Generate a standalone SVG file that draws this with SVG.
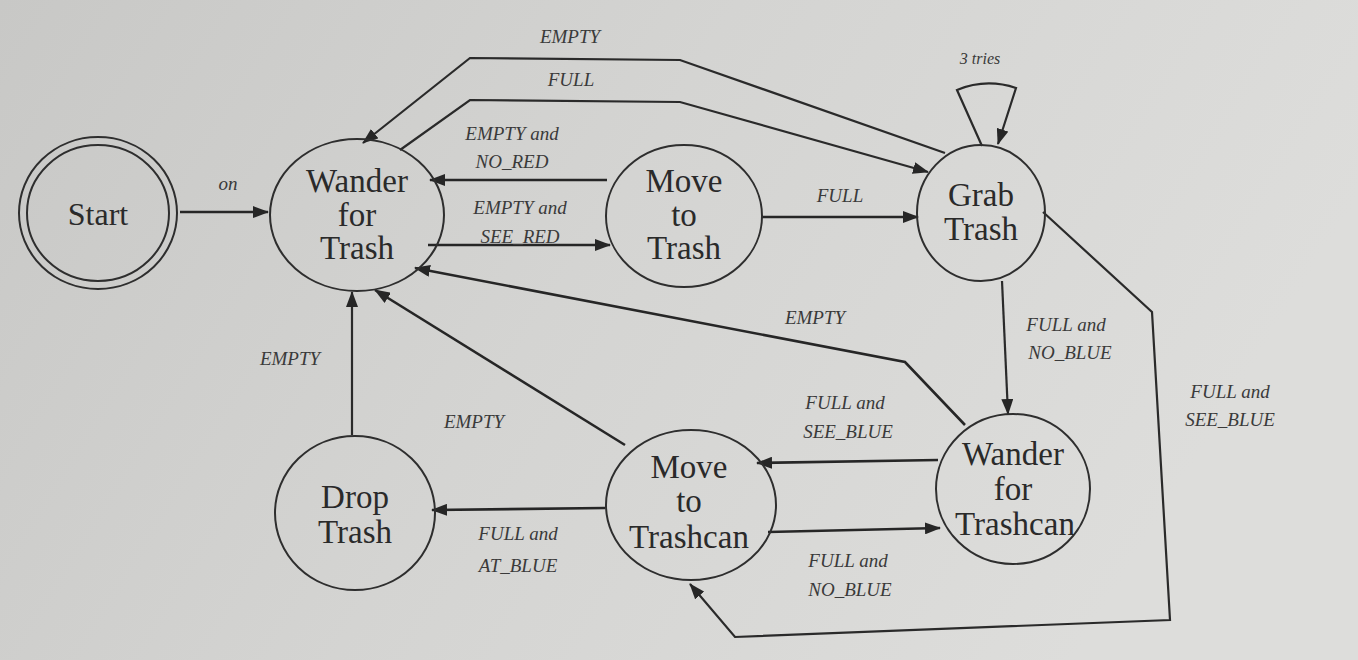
<svg xmlns="http://www.w3.org/2000/svg" width="1358" height="660" viewBox="0 0 1358 660">
<defs>
<linearGradient id="paper" x1="0" y1="0" x2="1" y2="0.3">
<stop offset="0" stop-color="#c8c8c6"/>
<stop offset="0.5" stop-color="#d4d4d2"/>
<stop offset="1" stop-color="#dddddb"/>
</linearGradient>
<marker id="arrow" markerUnits="userSpaceOnUse" markerWidth="16" markerHeight="12" refX="15" refY="6" orient="auto">
<path d="M0,0 L16,6 L0,12 z" fill="#262626"/>
</marker>
</defs>
<style>
.node{fill:none;stroke:#2e2e2e;stroke-width:2}
.nl{font-family:"Liberation Serif","Times New Roman",serif;font-size:33px;fill:#2a2a2a;text-anchor:middle}
.el{font-family:"Liberation Serif","Times New Roman",serif;font-style:italic;font-size:19px;fill:#3a3a3a;text-anchor:middle}
.edge{fill:none;stroke:#262626;stroke-width:2.6;marker-end:url(#arrow)}
.thin{fill:none;stroke:#2a2a2a;stroke-width:2.2;marker-end:url(#arrow)}
</style>
<rect width="1358" height="660" fill="url(#paper)"/>

<g id="connectors">
<path class="edge" d="M180,212 L268,212"/>
<path class="edge" d="M607,180 L430,180"/>
<path class="edge" d="M428,245 L610,245"/>
<path class="edge" d="M762,217 L918,217"/>
<path class="thin" d="M945,153 L680,60 L470,58 L363,143"/>
<path class="thin" d="M400,150 L470,100 L680,102 L928,172"/>
<path class="thin" d="M982,146 L957,90 Q986,78 1016,88 L998,144"/>
<path class="thin" d="M1002,281 L1008,414"/>
<path class="thin" d="M1043,212 L1152,312 L1170,620 L735,637 L690,584"/>
<path class="edge" d="M965,425 L905,362 L415,268"/>
<path class="edge" d="M938,460 L757,463"/>
<path class="edge" d="M768,532 L940,528"/>
<path class="edge" d="M625,445 L375,290"/>
<path class="thin" d="M352,435 L352,292"/>
<path class="edge" d="M605,508 L432,510"/>
</g>

<g id="edge-labels">
<text class="el" x="228" y="190">on</text>
<text class="el" x="512" y="140">EMPTY and</text>
<text class="el" x="512" y="168">NO_RED</text>
<text class="el" x="520" y="214">EMPTY and</text>
<text class="el" x="520" y="243">SEE_RED</text>
<text class="el" x="840" y="202">FULL</text>
<text class="el" x="570" y="43">EMPTY</text>
<text class="el" x="571" y="86">FULL</text>
<text class="el" x="980" y="64" style="font-size:16px">3 tries</text>
<text class="el" x="1066" y="331">FULL and</text>
<text class="el" x="1070" y="359">NO_BLUE</text>
<text class="el" x="1230" y="398">FULL and</text>
<text class="el" x="1230" y="426">SEE_BLUE</text>
<text class="el" x="815" y="324">EMPTY</text>
<text class="el" x="845" y="409">FULL and</text>
<text class="el" x="848" y="438">SEE_BLUE</text>
<text class="el" x="848" y="567">FULL and</text>
<text class="el" x="850" y="596">NO_BLUE</text>
<text class="el" x="474" y="428">EMPTY</text>
<text class="el" x="290" y="365">EMPTY</text>
<text class="el" x="518" y="540">FULL and</text>
<text class="el" x="518" y="572">AT_BLUE</text>
</g>

<g id="start">
<ellipse class="node" cx="98" cy="213" rx="79" ry="76"/>
<ellipse class="node" cx="98" cy="213" rx="71" ry="68"/>
<text class="nl" x="98" y="225" style="font-size:32px">Start</text>
</g>
<g id="wander-trash">
<ellipse class="node" cx="357" cy="215" rx="87" ry="76"/>
<text class="nl" x="357" y="192">Wander</text>
<text class="nl" x="357" y="226">for</text>
<text class="nl" x="357" y="259">Trash</text>
</g>
<g id="move-trash">
<ellipse class="node" cx="684" cy="216" rx="78" ry="71"/>
<text class="nl" x="684" y="192">Move</text>
<text class="nl" x="684" y="226">to</text>
<text class="nl" x="684" y="259">Trash</text>
</g>
<g id="grab-trash">
<ellipse class="node" cx="981" cy="213" rx="64" ry="68"/>
<text class="nl" x="981" y="206">Grab</text>
<text class="nl" x="981" y="240">Trash</text>
</g>
<g id="wander-trashcan">
<ellipse class="node" cx="1013" cy="489" rx="77" ry="75"/>
<text class="nl" x="1013" y="465">Wander</text>
<text class="nl" x="1013" y="500">for</text>
<text class="nl" x="1015" y="535">Trashcan</text>
</g>
<g id="move-trashcan">
<ellipse class="node" cx="691" cy="505" rx="85" ry="75"/>
<text class="nl" x="689" y="478">Move</text>
<text class="nl" x="689" y="512">to</text>
<text class="nl" x="689" y="548">Trashcan</text>
</g>
<g id="drop-trash">
<ellipse class="node" cx="355" cy="513" rx="80" ry="77"/>
<text class="nl" x="355" y="508">Drop</text>
<text class="nl" x="355" y="543">Trash</text>
</g>
</svg>
